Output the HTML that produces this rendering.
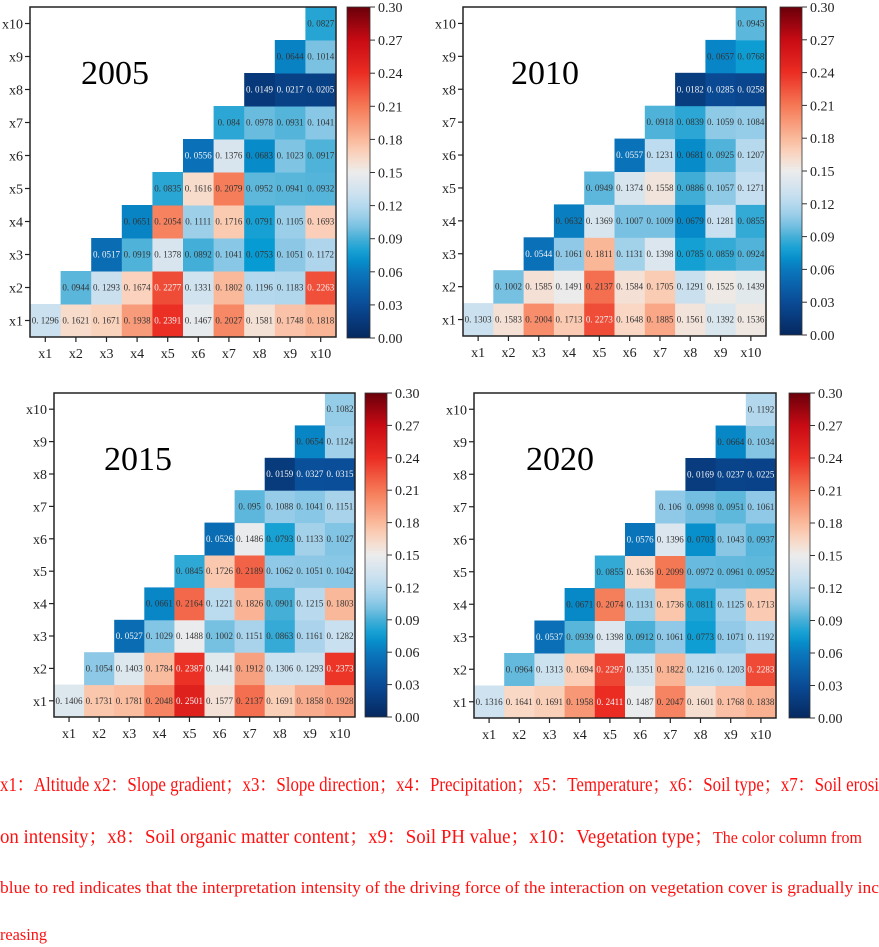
<!DOCTYPE html>
<html><head><meta charset="utf-8">
<style>
body{margin:0;background:#fff;width:879px;height:946px;overflow:hidden;position:relative;font-family:"Liberation Serif","Noto Serif CJK SC",serif;}
#chart{position:absolute;left:0;top:0;}
.cap{position:absolute;left:0;color:#ff1010;white-space:nowrap;font-size:20px;line-height:24px;transform-origin:0 50%;font-family:"Liberation Serif","Noto Serif CJK SC",serif;}
</style></head><body>
<svg id="chart" width="879" height="760"></svg>
<div class="cap" id="c1" style="top:773px">x1：Altitude x2：Slope gradient；x3：Slope direction；x4：Precipitation；x5：Temperature；x6：Soil type；x7：Soil erosi</div>
<div class="cap" id="c2" style="top:825px">on intensity；x8：Soil organic matter content；x9：Soil PH value；x10：Vegetation type；<span style="font-size:17px">The color column from</span></div>
<div class="cap" id="c3" style="top:876px;font-size:17px">blue to red indicates that the interpretation intensity of the driving force of the interaction on vegetation cover is gradually inc</div>
<div class="cap" id="c4" style="top:923px;font-size:17px">reasing</div>
<script>
const labels=["x1","x2","x3","x4","x5","x6","x7","x8","x9","x10"];
const cbTicks=[0,0.03,0.06,0.09,0.12,0.15,0.18,0.21,0.24,0.27,0.30];
const years=["2005","2010","2015","2020"];
const v2005=[[.1296,.1621,.1671,.1938,.2391,.1467,.2027,.1581,.1748,.1818],[.0944,.1293,.1674,.2277,.1331,.1802,.1196,.1183,.2263],[.0517,.0919,.1378,.0892,.1041,.0753,.1051,.1172],[.0651,.2054,.1111,.1716,.0791,.1105,.1693],[.0835,.1616,.2079,.0952,.0941,.0932],[.0556,.1376,.0683,.1023,.0917],[.084,.0978,.0931,.1041],[.0149,.0217,.0205],[.0644,.1014],[.0827]];
const v2010=[[.1303,.1583,.2004,.1713,.2273,.1648,.1885,.1561,.1392,.1536],[.1002,.1585,.1491,.2137,.1584,.1705,.1291,.1525,.1439],[.0544,.1061,.1811,.1131,.1398,.0785,.0859,.0924],[.0632,.1369,.1007,.1009,.0679,.1281,.0855],[.0949,.1374,.1558,.0886,.1057,.1271],[.0557,.1231,.0681,.0925,.1207],[.0918,.0839,.1059,.1084],[.0182,.0285,.0258],[.0657,.0768],[.0945]];
const v2015=[[.1406,.1731,.1781,.2048,.2501,.1577,.2137,.1691,.1858,.1928],[.1054,.1403,.1784,.2387,.1441,.1912,.1306,.1293,.2373],[.0527,.1029,.1488,.1002,.1151,.0863,.1161,.1282],[.0661,.2164,.1221,.1826,.0901,.1215,.1803],[.0845,.1726,.2189,.1062,.1051,.1042],[.0526,.1486,.0793,.1133,.1027],[.095,.1088,.1041,.1151],[.0159,.0327,.0315],[.0654,.1124],[.1082]];
const v2020=[[.1316,.1641,.1691,.1958,.2411,.1487,.2047,.1601,.1768,.1838],[.0964,.1313,.1694,.2297,.1351,.1822,.1216,.1203,.2283],[.0537,.0939,.1398,.0912,.1061,.0773,.1071,.1192],[.0671,.2074,.1131,.1736,.0811,.1125,.1713],[.0855,.1636,.2099,.0972,.0961,.0952],[.0576,.1396,.0703,.1043,.0937],[.106,.0998,.0951,.1061],[.0169,.0237,.0225],[.0664,.1034],[.1192]];
const allVals=[v2005,v2010,v2015,v2020];
const VMAX=0.30;
const panels=[
 {l:30,t:7,r:336,b:337,cx:347,cw:23,cb:338,tx:115,ty:84},
 {l:463,t:7,r:766,b:336,cx:780,cw:22,cb:335,tx:545,ty:84},
 {l:54,t:393,r:355,b:717,cx:365,cw:22,cb:717,tx:138,ty:470},
 {l:474,t:393,r:776,b:718,cx:789,cw:21,cb:718,tx:560,ty:470}];
const stops=[[0,[5,40,95]],[0.03,[10,75,150]],[0.06,[10,120,190]],[0.075,[5,155,210]],[0.09,[70,175,215]],[0.105,[140,200,230]],[0.125,[195,222,240]],[0.15,[236,236,236]],[0.165,[250,215,195]],[0.18,[250,185,155]],[0.21,[245,120,85]],[0.24,[235,45,35]],[0.27,[200,10,20]],[0.30,[105,0,10]]];
function color(v){for(let i=1;i<stops.length;i++){if(v<=stops[i][0]){const a=stops[i-1],b=stops[i];const f=(v-a[0])/(b[0]-a[0]);const c=a[1].map((x,k)=>Math.round(x+(b[1][k]-x)*f));return `rgb(${c})`;}}return 'rgb(105,0,10)';}
const NS="http://www.w3.org/2000/svg";
const svg=document.getElementById('chart');
function mk(tag,at,parent){const e=document.createElementNS(NS,tag);for(const k in at)e.setAttribute(k,at[k]);(parent||svg).appendChild(e);return e;}
const defs=mk('defs',{});
const grad=mk('linearGradient',{id:'cbg',x1:0,y1:1,x2:0,y2:0},defs);
for(let i=0;i<=30;i++){mk('stop',{offset:i/30,'stop-color':color(i/30*VMAX)},grad);}
panels.forEach((p,pi)=>{
 const g=mk('g',{});
 
 
 const cw=(p.r-p.l)/10,ch=(p.b-p.t)/10;
 const xs=c=>p.l+c*cw, ys=r=>p.b-(r+1)*ch;
 const vals=allVals[pi];
 vals.forEach((row,r)=>{row.forEach((v,k)=>{const c=r+k;
  const rc=mk('rect',{x:xs(c),y:ys(r),width:cw+0.5,height:ch+0.5,fill:color(v)},g);
  
  
  const t=mk('text',{x:xs(c)+cw/2,y:ys(r)+ch/2+3,'text-anchor':'middle','font-size':9,fill:(v<0.06||v>0.225)?'#f4f4f4':'#333','font-family':'"Liberation Serif",serif'},g);
  t.textContent='0. '+String(v).slice(2);
  
  
 });});
 mk('rect',{x:p.l,y:p.t,width:p.r-p.l,height:p.b-p.t,fill:'none',stroke:'#222','stroke-width':1.5},g);
 labels.forEach((lb,i)=>{
  const y=ys(i)+ch/2;
  mk('line',{x1:p.l-5,x2:p.l,y1:y,y2:y,stroke:'#222','stroke-width':1.2},g);
  const t=mk('text',{x:p.l-7,y:y+5,'text-anchor':'end','font-size':14,fill:'#222'},g);
  t.textContent=lb;
  
  
  const x=xs(i)+cw/2;
  mk('line',{x1:x,x2:x,y1:p.b,y2:p.b+5,stroke:'#222','stroke-width':1.2},g);
  const t2=mk('text',{x:x,y:p.b+21,'text-anchor':'middle','font-size':14,fill:'#222'},g);
  t2.textContent=lb;
  
  
 });
 const tt=mk('text',{x:p.tx,y:p.ty,'text-anchor':'middle','font-size':34,fill:'#000'},g);
 tt.textContent=years[pi];
 
 
 const cb=mk('rect',{x:p.cx,y:p.t,width:p.cw,height:p.cb-p.t,fill:'url(#cbg)',stroke:'#333','stroke-width':0.8},g);
 
 
 cbTicks.forEach(v=>{
  const y=p.cb-(v/VMAX)*(p.cb-p.t);
  mk('line',{x1:p.cx+p.cw,x2:p.cx+p.cw+5,y1:y,y2:y,stroke:'#333','stroke-width':1},g);
  const t=mk('text',{x:p.cx+p.cw+8,y:y+5,'font-size':14,fill:'#222'},g);
  t.textContent=v.toFixed(2);
  
  
 });
});
const targets={c1:879,c2:862,c3:879,c4:47};
for(const id in targets){const el=document.getElementById(id);const w=el.getBoundingClientRect().width;el.style.transform='scaleX('+(targets[id]/w)+')';}
</script>
</body></html>
